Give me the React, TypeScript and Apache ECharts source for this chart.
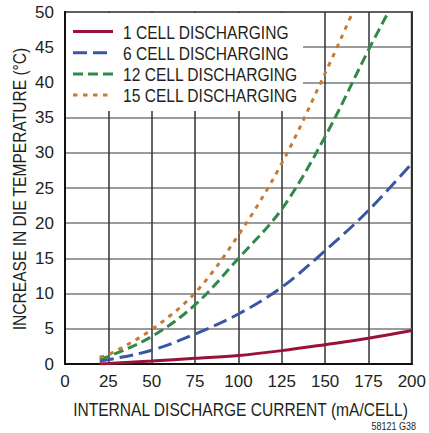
import React, { useEffect, useRef } from "react";
import * as echarts from "echarts";

const seriesNames = ["1 CELL DISCHARGING", "6 CELL DISCHARGING", "12 CELL DISCHARGING", "15 CELL DISCHARGING"];
const seriesColors = ["#9b1237", "#3b55a5", "#2f8a4a", "#c77b35"];
const seriesDash: (number[] | null)[] = [null, [14, 6], [10, 5], [4.5, 5.5]];

const current1 = [20, 25, 50, 75, 100, 125, 150, 175, 200];
const temp1 = [0.05, 0.08, 0.42, 0.8, 1.2, 1.9, 2.75, 3.65, 4.75];

const current6 = [20, 25, 50, 75, 100, 125, 150, 175, 200];
const temp6 = [0.45, 0.6, 1.95, 4.25, 7.1, 10.9, 16.1, 21.8, 28.5];

const current12 = [20, 25, 50, 75, 100, 125, 150, 175, 186.5];
const temp12 = [0.8, 1.05, 3.9, 8.4, 15.0, 22.0, 32.3, 44.6, 50];

const current15 = [20, 25, 50, 75, 100, 125, 150, 166];
const temp15 = [1.0, 1.3, 4.9, 10.1, 18.3, 28.5, 41.3, 50];

const xTitle = "INTERNAL DISCHARGE CURRENT (mA/CELL)";
const yTitle = "INCREASE IN DIE TEMPERATURE (°C)";
const footnote = "58121 G38";

const FONT = "'Liberation Sans', Arial, sans-serif";
const TXT = "#231f20";
const NARROW = 0.82;

const pairs = (xs: number[], ys: number[]) => xs.map((x, i) => [x, ys[i]]);

export default function App() {
  const ref = useRef<HTMLDivElement>(null);
  useEffect(() => {
    if (!ref.current) return;
    const chart = echarts.init(ref.current, null, { renderer: "svg" });
    const mk = (i: number, data: number[][]) => ({
      name: seriesNames[i],
      type: "line",
      data,
      smooth: 0.35,
      symbol: "none",
      clip: true,
      lineStyle: { color: seriesColors[i], width: 3, type: seriesDash[i] || "solid", cap: "butt" },
      itemStyle: { color: seriesColors[i] },
      z: 3,
    });

    const legendEls: any[] = [
      { type: "rect", shape: { x: 66, y: 13, width: 237, height: 98 }, style: { fill: "#fff" }, z: 5 },
    ];
    seriesNames.forEach((name, i) => {
      const y = 31.5 + i * 21.2;
      legendEls.push({
        type: "line",
        shape: { x1: 73, y1: y, x2: 113, y2: y },
        style: { stroke: seriesColors[i], lineWidth: 3, lineDash: seriesDash[i] || null },
        z: 6,
      });
      legendEls.push({
        type: "text",
        x: 123,
        y: y + 0.5,
        scaleX: NARROW,
        style: { text: name, fontSize: 19, fill: TXT, fontFamily: FONT, verticalAlign: "middle", align: "left" },
        z: 6,
      });
    });

    chart.setOption({
      animation: false,
      backgroundColor: "#fff",
      textStyle: { fontFamily: FONT },
      grid: {
        left: 65,
        top: 12,
        width: 351,
        height: 352,
        show: true,
        borderColor: "#111",
        borderWidth: 2,
        backgroundColor: "transparent",
      },
      xAxis: {
        type: "value",
        min: 0,
        max: 200,
        interval: 25,
        axisLine: { show: true, lineStyle: { color: "#111", width: 2 } },
        axisTick: { show: false },
        axisLabel: { fontSize: 17, color: TXT, margin: 9, fontFamily: FONT },
        splitLine: { show: true, lineStyle: { color: "#333", width: 1.5 } },
      },
      yAxis: {
        type: "value",
        min: 0,
        max: 50,
        interval: 5,
        axisLine: { show: true, lineStyle: { color: "#111", width: 2 } },
        axisTick: { show: false },
        axisLabel: { fontSize: 17, color: TXT, margin: 11, fontFamily: FONT },
        splitLine: { show: true, lineStyle: { color: "#7a7a7a", width: 1.5 } },
      },
      series: [
        mk(0, pairs(current1, temp1)),
        mk(1, pairs(current6, temp6)),
        mk(2, pairs(current12, temp12)),
        mk(3, pairs(current15, temp15)),
      ],
      graphic: [
        ...legendEls,
        {
          type: "text",
          x: 240.5,
          y: 409,
          scaleX: NARROW,
          style: { text: xTitle, fontSize: 19, fill: TXT, fontFamily: FONT, align: "center", verticalAlign: "middle" },
        },
        {
          type: "text",
          x: 19,
          y: 189,
          rotation: Math.PI / 2,
          scaleX: NARROW,
          style: { text: yTitle, fontSize: 19, fill: TXT, fontFamily: FONT, align: "center", verticalAlign: "middle" },
        },
        {
          type: "text",
          x: 416,
          y: 426,
          scaleX: NARROW,
          style: { text: footnote, fontSize: 11, fill: TXT, fontFamily: FONT, align: "right", verticalAlign: "middle" },
        },
      ],
    });
    return () => chart.dispose();
  }, []);
  return <div ref={ref} style={{ position: "absolute", left: 0, top: 0, width: 429, height: 433 }} />;
}
